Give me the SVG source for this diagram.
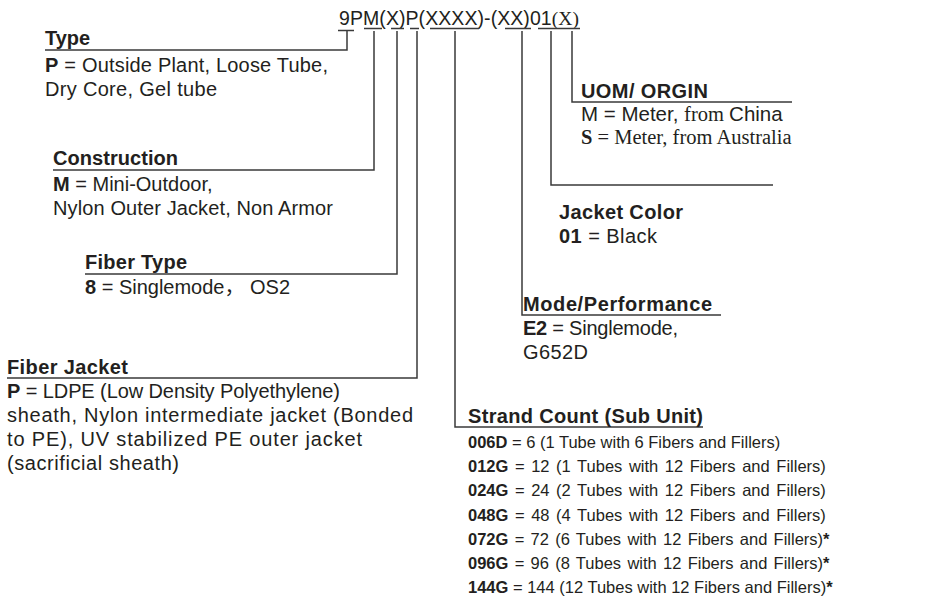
<svg xmlns="http://www.w3.org/2000/svg" width="935" height="598" viewBox="0 0 935 598">
<style>
.t{font-family:"Liberation Sans",Arial,"Noto Sans CJK SC",sans-serif;font-size:20px;fill:#231f20}
.b{font-weight:bold}
.s{font-family:"Liberation Serif","Times New Roman",serif}
.sc{font-size:16.5px}
.ln{stroke:#3a3a3a;stroke-width:1.5;fill:none}
.ul{stroke:#3a3a3a;stroke-width:1.6;fill:none}
</style>
<rect width="935" height="598" fill="#ffffff"/>
<g id="code">
<text class="t" x="339" y="25" style="font-size:19.5px" textLength="240" lengthAdjust="spacing">9PM(X)P(XXXX)-(XX)01<tspan class="s">(X)</tspan></text>
<path class="ul" d="M364,28.5H382M391,28.5H404M410,28.5H419M430,28.5H479M505,28.5H531M538,28.5H580"/>
</g>
<g id="connectors">
<path class="ln" d="M338,30.5H354M347,30.5V50H45"/>
<path class="ln" d="M374,31V170H53"/>
<path class="ln" d="M397,31V274H85"/>
<path class="ln" d="M417,31V378H7"/>
<path class="ln" d="M455,31V427H703"/>
<path class="ln" d="M522,31V315H721"/>
<path class="ln" d="M551,31V185H773"/>
<path class="ln" d="M572,31V102H792"/>
</g>
<g id="type">
<text class="t b" x="45" y="45" textLength="45">Type</text>
<text class="t" x="45" y="72" textLength="283"><tspan class="b">P</tspan> = Outside Plant, Loose Tube,</text>
<text class="t" x="45" y="96" textLength="172">Dry Core, Gel tube</text>
</g>
<g id="construction">
<text class="t b" x="53" y="165" textLength="125">Construction</text>
<text class="t" x="53" y="191"><tspan class="b">M</tspan> = Mini-Outdoor,</text>
<text class="t" x="53" y="215" textLength="280">Nylon Outer Jacket, Non Armor</text>
</g>
<g id="fiber-type">
<text class="t b" x="85" y="269" textLength="102">Fiber Type</text>
<text class="t" x="85" y="294" textLength="205"><tspan class="b">8</tspan> = Singlemode， OS2</text>
</g>
<g id="fiber-jacket">
<text class="t b" x="7" y="374" textLength="121">Fiber Jacket</text>
<text class="t" x="7" y="398" textLength="333"><tspan class="b">P</tspan> = LDPE (Low Density Polyethylene)</text>
<text class="t" x="7" y="422" textLength="406">sheath, Nylon intermediate jacket (Bonded</text>
<text class="t" x="7" y="446" textLength="355">to PE), UV stabilized PE outer jacket</text>
<text class="t" x="7" y="470" textLength="172">(sacrificial sheath)</text>
</g>
<g id="uom">
<text class="t b" x="581" y="98" textLength="127">UOM/ ORGIN</text>
<text class="t" x="581" y="121" style="font-size:20.5px">M = Meter, <tspan class="s">from </tspan>China</text>
<text class="t s" x="581" y="144" style="font-size:20.5px"><tspan class="b">S</tspan> = Meter, from Australia</text>
</g>
<g id="jacket-color">
<text class="t b" x="559" y="219" textLength="124">Jacket Color</text>
<text class="t" x="559" y="243" textLength="98"><tspan class="b">01</tspan> = Black</text>
</g>
<g id="mode">
<text class="t b" x="523" y="311" textLength="189">Mode/Performance</text>
<text class="t" x="523" y="335" textLength="155"><tspan class="b">E2</tspan> = Singlemode,</text>
<text class="t" x="523" y="359" textLength="65">G652D</text>
</g>
<g id="strand">
<text class="t b" x="468" y="423" textLength="235">Strand Count (Sub Unit)</text>
<text class="t sc" x="468" y="448"><tspan class="b">006D</tspan> = 6 (1 Tube with 6 Fibers and Fillers)</text>
<text class="t sc" x="468" y="472" word-spacing="2"><tspan class="b">012G</tspan> = 12 (1 Tubes with 12 Fibers and Fillers)</text>
<text class="t sc" x="468" y="496" word-spacing="2"><tspan class="b">024G</tspan> = 24 (2 Tubes with 12 Fibers and Fillers)</text>
<text class="t sc" x="468" y="521" word-spacing="2"><tspan class="b">048G</tspan> = 48 (4 Tubes with 12 Fibers and Fillers)</text>
<text class="t sc" x="468" y="545" word-spacing="1.7"><tspan class="b">072G</tspan> = 72 (6 Tubes with 12 Fibers and Fillers)<tspan class="b">*</tspan></text>
<text class="t sc" x="468" y="569" word-spacing="1.7"><tspan class="b">096G</tspan> = 96 (8 Tubes with 12 Fibers and Fillers)<tspan class="b">*</tspan></text>
<text class="t sc" x="468" y="593"><tspan class="b">144G</tspan> = 144 (12 Tubes with 12 Fibers and Fillers)<tspan class="b">*</tspan></text>
</g>
</svg>
